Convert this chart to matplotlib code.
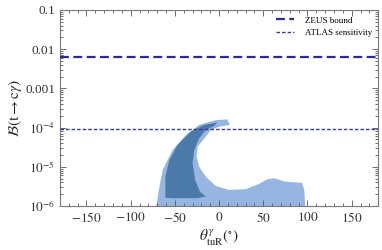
import matplotlib
matplotlib.use("Agg")
import matplotlib.pyplot as plt
import numpy as np
from matplotlib.patches import Polygon
from matplotlib.ticker import FixedLocator, LogLocator, NullFormatter

plt.rcParams["font.family"] = ["Liberation Serif", "DejaVu Serif"]
plt.rcParams["mathtext.fontset"] = "stix"

# reference bounds
zeus_bound = 6.5e-3
atlas_sens = 9.0e-5

# allowed region (theta in degrees, log10 of branching ratio)
light_theta = [-71, -67.5, -63.8, -52.5, -37.5, -22.5, -3.8, 9.4, 12, 0, -9.4, -15,
               -24.4, -25.5, -22.5, -15, -3.8, 11.3, 30, 45, 54.4, 61.9, 75, 93.8,
               96.4, 97.5]
light_logb = [-6.0, -5.51, -5.08, -4.57, -4.19, -3.93, -3.81, -3.79, -3.93, -3.98, -4.06,
              -4.23, -4.49, -4.74, -5.0, -5.25, -5.49, -5.59, -5.57, -5.44, -5.32, -5.29,
              -5.38, -5.41, -5.59, -6.0]

dark_theta = [-60.8, -60.8, -56.3, -46.9, -31.9, -16.9, -1.9, -5.6, -15, -22.5, -28.1,
              -30, -27, -21.8, -15, -24.4, -52.5, -60.8]
dark_logb = [-5.72, -5.25, -4.83, -4.44, -4.10, -3.93, -3.87, -3.96, -4.06, -4.27, -4.57,
             -4.91, -5.34, -5.63, -5.76, -5.80, -5.80, -5.79]

fig = plt.figure(figsize=(3.82, 2.5), dpi=100)
ax = fig.add_axes([0.157, 0.176, 0.833, 0.784])

ax.add_patch(Polygon(np.column_stack([light_theta, 10.0 ** np.array(light_logb)]),
                     closed=True, facecolor="#97b5e1", edgecolor="none", zorder=1))
ax.add_patch(Polygon(np.column_stack([dark_theta, 10.0 ** np.array(dark_logb)]),
                     closed=True, facecolor="#4b7aaa", edgecolor="none", zorder=2))

ax.axhline(zeus_bound, color="#2b2b95", lw=1.6, ls=(0, (4, 2)), label="ZEUS bound", zorder=3)
ax.axhline(atlas_sens, color="#3535a5", lw=1.0, ls=(0, (2.5, 1.5)), label="ATLAS sensitivity", zorder=3)

ax.set_yscale("log")
ax.set_xlim(-180, 180)
ax.set_ylim(1e-6, 0.1)

ax.xaxis.set_major_locator(FixedLocator([-150, -100, -50, 0, 50, 100, 150]))
ax.xaxis.set_minor_locator(FixedLocator(np.arange(-180, 181, 10)))
ax.set_xticklabels(["$-150$", "$-100$", "$-50$", "$0$", "$50$", "$100$", "$150$"])
ax.yaxis.set_major_locator(FixedLocator([1e-6, 1e-5, 1e-4, 1e-3, 1e-2, 1e-1]))
ax.yaxis.set_minor_locator(LogLocator(base=10, subs=np.arange(2, 10)))
ax.yaxis.set_minor_formatter(NullFormatter())
ax.set_yticklabels(["$10^{-6}$", "$10^{-5}$", "$10^{-4}$", "0.001", "0.01", "0.1"])

ax.tick_params(which="both", direction="in", top=True, right=True, colors="#555555",
               labelcolor="#333333", labelsize=9.5, width=0.6)
ax.tick_params(which="major", length=4)
ax.tick_params(which="minor", length=2)
for s in ax.spines.values():
    s.set_color("#777777")
    s.set_linewidth(0.8)

ax.set_xlabel(r"$\theta^{\gamma}_{\rm tuR}(^{\circ})$", fontsize=11, labelpad=2, color="#222222")
ax.set_ylabel(r"$\mathcal{B}(\mathrm{t}\to\mathrm{c}\gamma)$", fontsize=11, labelpad=1, color="#222222")

ax.legend(loc="upper right", fontsize=6.5, frameon=False, handlelength=2.0,
          handletextpad=1.2, borderaxespad=0.3, labelspacing=0.5)

fig.savefig("out.png", dpi=100)
